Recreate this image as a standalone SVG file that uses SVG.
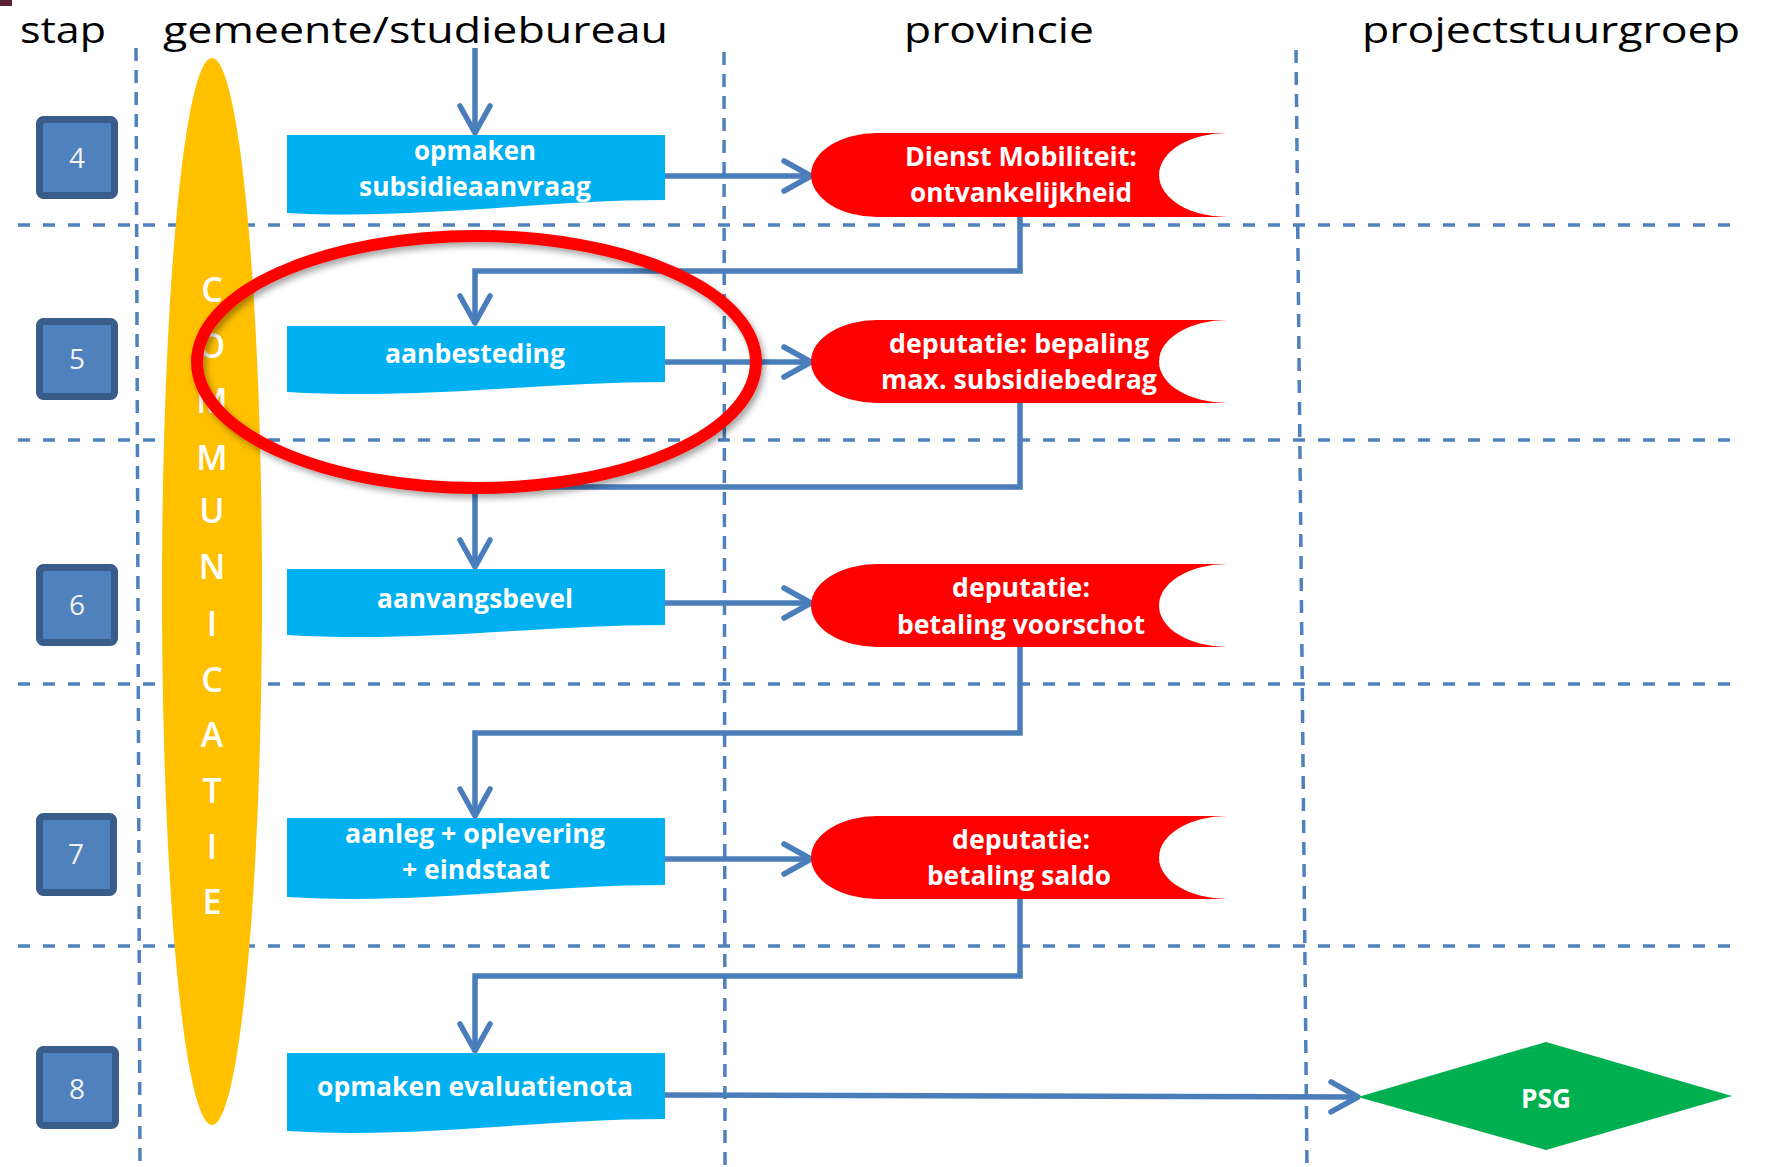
<svg xmlns="http://www.w3.org/2000/svg" width="1775" height="1167" viewBox="0 0 1775 1167">
<style>
.hdr{font-family:"Open Sans","Noto Sans",sans-serif;font-size:37px;fill:#000}
.grid-h{stroke:#4F81BD;stroke-width:3.5;stroke-dasharray:12 13;fill:none}
.grid-v{stroke:#4F81BD;stroke-width:3.5;stroke-dasharray:13 9;fill:none}
.step rect{fill:#4F81BD;stroke:#385D8A;stroke-width:7}
.step text{font-family:"Open Sans","Noto Sans",sans-serif;font-size:28px;fill:#F2F2F2;text-anchor:middle}
.proc path{fill:#00B0F0}
.proc text,.prov text,.psg text{font-family:"Open Sans","Noto Sans",sans-serif;font-weight:bold;font-size:27px;fill:#fff;text-anchor:middle}
.prov path{fill:#FF0000}
.comm text{font-family:"Open Sans","Noto Sans",sans-serif;font-weight:600;font-size:34px;fill:#fff;text-anchor:middle}
.conn{stroke:#4A7EBB;stroke-width:5.5;fill:none;stroke-linejoin:miter;marker-end:url(#arr)}
</style>
<defs>
<marker id="arr" markerUnits="userSpaceOnUse" viewBox="-32 -20 38 40" refX="0" refY="0" markerWidth="38" markerHeight="40" orient="auto" overflow="visible">
<path d="M-27,-15 L0,0 L-27,15" fill="none" stroke="#4A7EBB" stroke-width="5.5" stroke-linecap="round" stroke-linejoin="round"/>
</marker>
<filter id="shadow" x="-10%" y="-10%" width="120%" height="130%">
<feDropShadow dx="3" dy="4" stdDeviation="3" flood-color="#000" flood-opacity="0.35"/>
</filter>
</defs>
<rect width="1775" height="1167" fill="#fff"/>
<rect x="0" y="0" width="12" height="6" fill="#5B2333"/>

<g id="headers">
<text class="hdr" x="20" y="43" textLength="86" lengthAdjust="spacingAndGlyphs">stap</text>
<text class="hdr" x="163" y="43" textLength="505" lengthAdjust="spacingAndGlyphs">gemeente/studiebureau</text>
<text class="hdr" x="904" y="43" textLength="190" lengthAdjust="spacingAndGlyphs">provincie</text>
<text class="hdr" x="1362" y="43" textLength="378" lengthAdjust="spacingAndGlyphs">projectstuurgroep</text>
</g>

<g id="grid">
<line class="grid-h" x1="18" y1="225" x2="1742" y2="225"/>
<line class="grid-h" x1="18" y1="440" x2="1742" y2="440"/>
<line class="grid-h" x1="18" y1="684" x2="1742" y2="684"/>
<line class="grid-h" x1="18" y1="946" x2="1742" y2="946"/>
<line class="grid-v" x1="136" y1="48" x2="140" y2="1167"/>
<line class="grid-v" x1="724" y1="52" x2="725" y2="1167"/>
<line class="grid-v" x1="1296" y1="50" x2="1307" y2="1167"/>
</g>

<g id="communicatie" class="comm">
<ellipse cx="212" cy="591.5" rx="50" ry="533.5" fill="#FFC000"/>
<text x="212" y="302">C</text>
<text x="212" y="358">O</text>
<text x="212" y="413">M</text>
<text x="212" y="470">M</text>
<text x="212" y="523">U</text>
<text x="212" y="579">N</text>
<text x="212" y="636">I</text>
<text x="212" y="692">C</text>
<text x="212" y="747">A</text>
<text x="212" y="803">T</text>
<text x="212" y="859">I</text>
<text x="212" y="914">E</text>
</g>

<g id="step4" class="step"><rect x="39.5" y="119.5" width="75" height="76" rx="4"/><text x="77" y="168">4</text></g>
<g id="step5" class="step"><rect x="39.5" y="321.5" width="75" height="75" rx="4"/><text x="77" y="369">5</text></g>
<g id="step6" class="step"><rect x="39.5" y="567.5" width="75" height="75" rx="4"/><text x="77" y="615">6</text></g>
<g id="step7" class="step"><rect x="39.5" y="816.5" width="74" height="76" rx="4"/><text x="76" y="864">7</text></g>
<g id="step8" class="step"><rect x="39.5" y="1049.5" width="76" height="76" rx="4"/><text x="77" y="1099">8</text></g>

<g id="connectors">
<line class="conn" x1="475" y1="48" x2="475" y2="133"/>
<line class="conn" x1="665" y1="176" x2="811" y2="176"/>
<polyline class="conn" points="1020,217 1020,271 475,271 475,323"/>
<line class="conn" x1="665" y1="362" x2="811" y2="362"/>
<polyline class="conn" points="1020,403 1020,487 475,487 475,567"/>
<line class="conn" x1="665" y1="603" x2="811" y2="603"/>
<polyline class="conn" points="1020,647 1020,733 475,733 475,816"/>
<line class="conn" x1="665" y1="859" x2="811" y2="859"/>
<polyline class="conn" points="1020,899 1020,976 475,976 475,1051"/>
<line class="conn" x1="665" y1="1095" x2="1358" y2="1097"/>
</g>

<g id="box-subsidieaanvraag" class="proc">
<path d="M287,135 H665 V200 C540,200 420,220 287,213 Z"/>
<text x="475" y="160" textLength="122" lengthAdjust="spacingAndGlyphs">opmaken</text>
<text x="475" y="196" textLength="232" lengthAdjust="spacingAndGlyphs">subsidieaanvraag</text>
</g>
<g id="box-aanbesteding" class="proc">
<path d="M287,326 H665 V382 C540,382 420,400 287,392 Z"/>
<text x="475" y="363" textLength="180" lengthAdjust="spacingAndGlyphs">aanbesteding</text>
</g>
<g id="box-aanvangsbevel" class="proc">
<path d="M287,569 H665 V625 C540,625 420,643 287,635 Z"/>
<text x="475" y="608" textLength="196" lengthAdjust="spacingAndGlyphs">aanvangsbevel</text>
</g>
<g id="box-aanleg" class="proc">
<path d="M287,818 H665 V885 C540,885 420,905 287,897 Z"/>
<text x="475" y="843" textLength="260" lengthAdjust="spacingAndGlyphs">aanleg + oplevering</text>
<text x="476" y="879" textLength="148" lengthAdjust="spacingAndGlyphs">+ eindstaat</text>
</g>
<g id="box-evaluatienota" class="proc">
<path d="M287,1053 H665 V1119 C540,1119 420,1139 287,1131 Z"/>
<text x="475" y="1096" textLength="316" lengthAdjust="spacingAndGlyphs">opmaken evaluatienota</text>
</g>

<g id="prov-ontvankelijkheid" class="prov">
<path d="M877,133 H1227 A68,42 0 0 0 1227,217 H877 A66,42 0 0 1 877,133 Z"/>
<text x="1021" y="166" textLength="232" lengthAdjust="spacingAndGlyphs">Dienst Mobiliteit:</text>
<text x="1021" y="202" textLength="222" lengthAdjust="spacingAndGlyphs">ontvankelijkheid</text>
</g>
<g id="prov-subsidiebedrag" class="prov">
<path d="M877,320 H1227 A68,41.5 0 0 0 1227,403 H877 A66,41.5 0 0 1 877,320 Z"/>
<text x="1019" y="353" textLength="260" lengthAdjust="spacingAndGlyphs">deputatie: bepaling</text>
<text x="1019" y="389" textLength="276" lengthAdjust="spacingAndGlyphs">max. subsidiebedrag</text>
</g>
<g id="prov-voorschot" class="prov">
<path d="M877,564 H1227 A68,41.5 0 0 0 1227,647 H877 A66,41.5 0 0 1 877,564 Z"/>
<text x="1021" y="597" textLength="138" lengthAdjust="spacingAndGlyphs">deputatie:</text>
<text x="1021" y="634" textLength="248" lengthAdjust="spacingAndGlyphs">betaling voorschot</text>
</g>
<g id="prov-saldo" class="prov">
<path d="M877,816 H1227 A68,41.5 0 0 0 1227,899 H877 A66,41.5 0 0 1 877,816 Z"/>
<text x="1021" y="849" textLength="138" lengthAdjust="spacingAndGlyphs">deputatie:</text>
<text x="1019" y="885" textLength="184" lengthAdjust="spacingAndGlyphs">betaling saldo</text>
</g>

<g id="psg" class="psg">
<polygon points="1358,1097 1546,1042 1732,1096 1546,1150" fill="#00B050"/>
<text x="1546" y="1108" textLength="50" lengthAdjust="spacingAndGlyphs">PSG</text>
</g>

<g id="highlight">
<ellipse cx="476.5" cy="362" rx="279.5" ry="126" fill="none" stroke="#FF0000" stroke-width="12" filter="url(#shadow)"/>
</g>
</svg>
